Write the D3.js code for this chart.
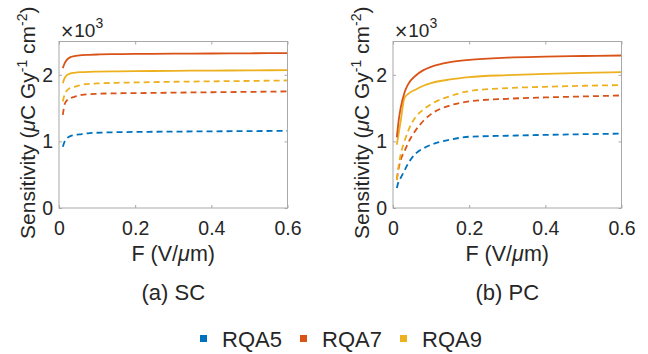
<!DOCTYPE html>
<html>
<head>
<meta charset="utf-8">
<script src="https://cdn.jsdelivr.net/npm/d3@7"></script>
<style>
  html, body { margin: 0; padding: 0; background: #fff; }
  svg { display: block; font-family: "Liberation Sans", Arial, Helvetica, sans-serif; }
</style>
</head>
<body>
<svg id="chart" width="648" height="354"></svg>
<script>
// ---- data ----
const fieldF = [0.01, 0.015, 0.02, 0.03, 0.04, 0.06, 0.08, 0.1, 0.15, 0.2, 0.3, 0.4, 0.5, 0.6];

// (a) SC panel
const scRQA7solid  = [2100, 2175, 2220, 2265, 2280, 2295, 2300, 2305, 2310, 2313, 2318, 2320, 2323, 2326];
const scRQA9solid  = [1875, 1955, 1990, 2020, 2030, 2040, 2045, 2048, 2052, 2055, 2060, 2063, 2066, 2070];
const scRQA9dashed = [1600, 1710, 1760, 1805, 1820, 1850, 1865, 1870, 1880, 1885, 1895, 1902, 1908, 1915];
const scRQA7dashed = [1400, 1560, 1610, 1650, 1670, 1700, 1710, 1715, 1722, 1725, 1732, 1738, 1744, 1750];
const scRQA5dashed = [920, 1000, 1040, 1080, 1095, 1110, 1125, 1130, 1138, 1142, 1147, 1151, 1155, 1158];

// (b) PC panel
const pcRQA7solid  = [1060, 1320, 1500, 1730, 1860, 1990, 2070, 2120, 2190, 2225, 2258, 2272, 2282, 2290];
const pcRQA9solid  = [950, 1120, 1300, 1650, 1715, 1780, 1835, 1875, 1930, 1965, 1995, 2015, 2030, 2040];
const pcRQA9dashed = [420, 640, 800, 1000, 1160, 1370, 1480, 1560, 1680, 1755, 1800, 1820, 1835, 1845];
const pcRQA7dashed = [430, 600, 720, 850, 980, 1170, 1310, 1410, 1540, 1600, 1640, 1660, 1675, 1690];
const pcRQA5dashed = [300, 400, 450, 560, 670, 820, 895, 950, 1025, 1070, 1085, 1098, 1108, 1117];

const xTicks = [0, 0.2, 0.4, 0.6];
const yTicks = [0, 1000, 2000];
const legendNames = ["RQA5", "RQA7", "RQA9"];
const legendColors = ["#0072BD", "#D95319", "#EDB120"];
const panelTitles = ["(a) SC", "(b) PC"];

// ---- drawing ----
const svg = d3.select("#chart");
const textColor = "#262626";
const boxColor = "#a8a8a8";

function seriesFor(vals, color, dashed) { return { vals, color, dashed }; }

const panels = [
  { left: 59, right: 287.5, title: panelTitles[0], series: [
      seriesFor(scRQA5dashed, legendColors[0], true),
      seriesFor(scRQA7dashed, legendColors[1], true),
      seriesFor(scRQA9dashed, legendColors[2], true),
      seriesFor(scRQA9solid, legendColors[2], false),
      seriesFor(scRQA7solid, legendColors[1], false) ] },
  { left: 393, right: 621.5, title: panelTitles[1], series: [
      seriesFor(pcRQA5dashed, legendColors[0], true),
      seriesFor(pcRQA7dashed, legendColors[1], true),
      seriesFor(pcRQA9dashed, legendColors[2], true),
      seriesFor(pcRQA9solid, legendColors[2], false),
      seriesFor(pcRQA7solid, legendColors[1], false) ] }
];
const plotTop = 41.5, plotBottom = 208;

panels.forEach(p => {
  const x = d3.scaleLinear().domain([0, 0.6]).range([p.left, p.right]);
  const y = d3.scaleLinear().domain([0, 2500]).range([plotBottom, plotTop]);
  const g = svg.append("g");

  // curves
  const line = d3.line().x((d, i) => x(fieldF[i])).y(d => y(d)).curve(d3.curveMonotoneX);
  p.series.forEach(s => {
    g.append("path").datum(s.vals)
      .attr("d", line)
      .attr("fill", "none")
      .attr("stroke", s.color)
      .attr("stroke-width", 1.8)
      .attr("stroke-dasharray", s.dashed ? "6,4" : null);
  });

  // box
  g.append("rect")
    .attr("x", p.left).attr("y", plotTop)
    .attr("width", p.right - p.left).attr("height", plotBottom - plotTop)
    .attr("fill", "none").attr("stroke", boxColor).attr("stroke-width", 1);

  // axes
  const fmtX = d => d === 0 ? "0" : d3.format(".1f")(d);
  const ax = g.append("g").attr("transform", `translate(0,${plotBottom})`)
    .call(d3.axisBottom(x).tickValues(xTicks).tickFormat(fmtX).tickSizeInner(-3).tickSizeOuter(0).tickPadding(13));
  const axT = g.append("g").attr("transform", `translate(0,${plotTop})`)
    .call(d3.axisTop(x).tickValues(xTicks).tickFormat("").tickSizeInner(-3).tickSizeOuter(0));
  const ay = g.append("g").attr("transform", `translate(${p.left},0)`)
    .call(d3.axisLeft(y).tickValues(yTicks).tickFormat(d => d / 1000).tickSizeInner(-3).tickSizeOuter(0).tickPadding(6));
  const ayR = g.append("g").attr("transform", `translate(${p.right},0)`)
    .call(d3.axisRight(y).tickValues(yTicks).tickFormat("").tickSizeInner(-3).tickSizeOuter(0));
  [ax, axT, ay, ayR].forEach(a => {
    a.select(".domain").remove();
    a.selectAll(".tick line").attr("stroke", boxColor);
    a.selectAll(".tick text").attr("fill", textColor).style("font-size", "19.5px")
      .style("font-family", '"Liberation Sans", Arial, sans-serif');
  });

  // exponent
  const ex = g.append("text").attr("x", p.left + 1).attr("y", 36.5)
    .attr("fill", textColor).style("font-size", "19px");
  ex.append("tspan").style("font-family", '"DejaVu Sans", sans-serif').style("font-size", "17px").text("×");
  ex.append("tspan").text("10");
  ex.append("tspan").attr("dy", -9).style("font-size", "14px").text("3");

  // y label
  const yl = g.append("text")
    .attr("transform", `translate(${p.left - 31},${(plotTop + plotBottom) / 2 - 2}) rotate(-90)`)
    .attr("text-anchor", "middle").attr("dy", "0.35em")
    .attr("fill", textColor).style("font-size", "21px");
  yl.append("tspan").text("Sensitivity (");
  yl.append("tspan").style("font-style", "italic").text("μ");
  yl.append("tspan").text("C Gy");
  yl.append("tspan").attr("dy", -8).style("font-size", "14px").text("-1");
  yl.append("tspan").attr("dy", 8).text(" cm");
  yl.append("tspan").attr("dy", -8).style("font-size", "14px").text("-2");
  yl.append("tspan").attr("dy", 8).text(")");

  // x label
  const xl = g.append("text")
    .attr("x", (p.left + p.right) / 2).attr("y", 260.5)
    .attr("text-anchor", "middle").attr("fill", textColor).style("font-size", "21.5px");
  xl.append("tspan").text("F (V/");
  xl.append("tspan").style("font-style", "italic").text("μ");
  xl.append("tspan").text("m)");

  // panel title
  g.append("text")
    .attr("x", (p.left + p.right) / 2).attr("y", 299.5)
    .attr("text-anchor", "middle").attr("fill", textColor).style("font-size", "22px")
    .text(p.title);
});

// legend
const legX = [200, 300, 400];
const leg = svg.append("g");
legendNames.forEach((n, i) => {
  leg.append("rect").attr("x", legX[i]).attr("y", 335).attr("width", 7).attr("height", 7)
    .attr("fill", legendColors[i]);
  leg.append("text").attr("x", legX[i] + 22).attr("y", 346.5)
    .attr("fill", textColor).style("font-size", "22px").text(n);
});
</script>
</body>
</html>
